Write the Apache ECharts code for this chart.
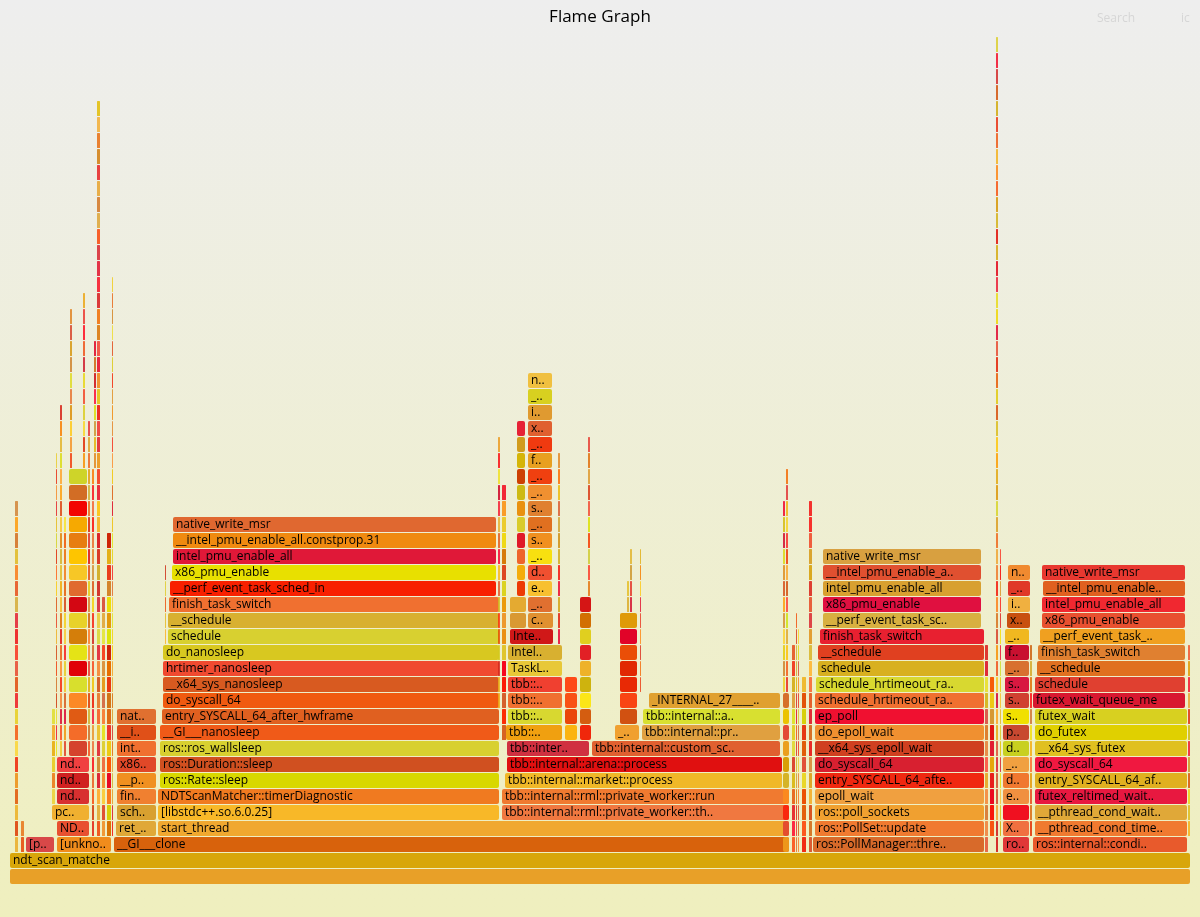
<!DOCTYPE html>
<html lang="en">
<head>
    <meta charset="UTF-8">
    <script src="https://cdn.jsdelivr.net/npm/echarts@6/dist/echarts.min.js"></script>
    <title>Flame Graph</title>
    <style>
        html, body {margin: 0; padding: 0;}
        body {background: linear-gradient(#eeeeee, #efefbe);}
    </style>
</head>
<body>

<div id="fg" style="width:1200px;height:917px;"></div>

<script>
    // frames with names: [depth, start, end, label]  (sample units, root = 0..1181)
    var frames = [
        [0, 0, 1181, ''],
        [1, 0, 1181, 'ndt_scan_matche'],
        [2, 16, 45, '[p..'], [2, 47, 102, '[unkno..'], [2, 104, 780, '__GI___clone'], [2, 803, 975, 'ros::PollManager::thre..'], [2, 993, 1020, 'ro..'], [2, 1023, 1178, 'ros::internal::condi..'],
        [3, 47, 80, 'ND..'], [3, 106, 147, 'ret_..'], [3, 148, 780, 'start_thread'], [3, 805, 975, 'ros::PollSet::update'], [3, 993, 1020, 'Xm..'], [3, 1025, 1178, '__pthread_cond_time..'],
        [4, 42, 80, 'pc..'], [4, 107, 147, 'sch..'], [4, 148, 490, '[libstdc++.so.6.0.25]'], [4, 492, 780, 'tbb::internal::rml::private_worker::th..'], [4, 805, 975, 'ros::poll_sockets'], [4, 993, 1020, ''], [4, 1025, 1178, '__pthread_cond_wait..'],
        [5, 47, 80, 'nd..'], [5, 107, 147, 'fin..'], [5, 148, 490, 'NDTScanMatcher::timerDiagnostic'], [5, 492, 780, 'tbb::internal::rml::private_worker::run'], [5, 805, 975, 'epoll_wait'], [5, 993, 1020, 'e..'], [5, 1025, 1178, 'futex_reltimed_wait..'],
        [6, 47, 80, 'nd..'], [6, 107, 147, '__p..'], [6, 150, 490, 'ros::Rate::sleep'], [6, 495, 773, 'tbb::internal::market::process'], [6, 805, 975, 'entry_SYSCALL_64_afte..'], [6, 993, 1020, 'd..'], [6, 1025, 1178, 'entry_SYSCALL_64_af..'],
        [7, 47, 80, 'nd..'], [7, 107, 147, 'x86..'], [7, 150, 490, 'ros::Duration::sleep'], [7, 497, 773, 'tbb::internal::arena::process'], [7, 805, 975, 'do_syscall_64'], [7, 993, 1020, '_..'], [7, 1025, 1178, 'do_syscall_64'],
        [8, 107, 147, 'int..'], [8, 150, 490, 'ros::ros_wallsleep'], [8, 497, 580, 'tbb::inter..'], [8, 582, 771, 'tbb::internal::custom_sc..'], [8, 805, 975, '__x64_sys_epoll_wait'], [8, 993, 1020, 'd..'], [8, 1025, 1178, '__x64_sys_futex'],
        [9, 107, 147, '__i..'], [9, 150, 490, '__GI___nanosleep'], [9, 496, 553, 'tbb::..'], [9, 605, 630, '_..'], [9, 632, 771, 'tbb::internal::pr..'], [9, 805, 975, 'do_epoll_wait'], [9, 993, 1020, 'p..'], [9, 1025, 1178, 'do_futex'],
        [10, 107, 147, 'nat..'], [10, 152, 490, 'entry_SYSCALL_64_after_hwframe'], [10, 498, 553, 'tbb::..'], [10, 633, 771, 'tbb::internal::a..'], [10, 805, 975, 'ep_poll'], [10, 993, 1020, 's..'], [10, 1025, 1178, 'futex_wait'],
        [11, 153, 490, 'do_syscall_64'], [11, 498, 553, 'tbb::..'], [11, 639, 771, '_INTERNAL_27____..'], [11, 805, 975, 'schedule_hrtimeout_ra..'], [11, 995, 1020, 's..'], [11, 1023, 1176, 'futex_wait_queue_me'],
        [12, 153, 490, '__x64_sys_nanosleep'], [12, 498, 553, 'tbb::..'], [12, 806, 975, 'schedule_hrtimeout_ra..'], [12, 995, 1020, 's..'], [12, 1025, 1176, 'schedule'],
        [13, 153, 490, 'hrtimer_nanosleep'], [13, 498, 553, 'TaskL..'], [13, 808, 975, 'schedule'], [13, 995, 1020, '_..'], [13, 1027, 1176, '__schedule'],
        [14, 153, 490, 'do_nanosleep'], [14, 498, 553, 'Intel..'], [14, 808, 975, '__schedule'], [14, 995, 1020, 'f..'], [14, 1028, 1176, 'finish_task_switch'],
        [15, 158, 490, 'schedule'], [15, 500, 544, 'Inte..'], [15, 810, 975, 'finish_task_switch'], [15, 995, 1020, '_..'], [15, 1030, 1176, '__perf_event_task_..'],
        [16, 158, 490, '__schedule'], [16, 518, 544, 'c..'], [16, 813, 972, '__perf_event_task_sc..'], [16, 997, 1021, 'x..'], [16, 1032, 1176, 'x86_pmu_enable'],
        [17, 159, 490, 'finish_task_switch'], [17, 518, 543, '_..'], [17, 813, 972, 'x86_pmu_enable'], [17, 998, 1021, 'i..'], [17, 1032, 1176, 'intel_pmu_enable_all'],
        [18, 160, 487, '__perf_event_task_sched_in'], [18, 518, 543, 'e..'], [18, 813, 972, 'intel_pmu_enable_all'], [18, 998, 1021, '_..'], [18, 1033, 1176, '__intel_pmu_enable..'],
        [19, 162, 487, 'x86_pmu_enable'], [19, 518, 543, 'd..'], [19, 813, 972, '__intel_pmu_enable_a..'], [19, 998, 1021, 'n..'], [19, 1032, 1176, 'native_write_msr'],
        [20, 163, 487, 'intel_pmu_enable_all'], [20, 518, 543, '_..'], [20, 813, 972, 'native_write_msr'],
        [21, 163, 487, '__intel_pmu_enable_all.constprop.31'], [21, 518, 543, 's..'],
        [22, 163, 487, 'native_write_msr'], [22, 518, 543, '_..'],
        [23, 518, 543, 's..'], [24, 518, 543, '_..'], [25, 518, 543, '_..'], [26, 518, 543, 'f..'],
        [27, 518, 543, '_..'], [28, 518, 543, 'x..'], [29, 518, 543, 'i..'], [30, 518, 543, '_..'], [31, 518, 543, 'n..']
    ];

    // fill colour of each named frame, same order as frames
    var tints = [
        '#e8a028',
        '#d8a60a',
        '#d84848', '#f08c1c', '#d8620c', '#d86a2a', '#e03838', '#e85a2c',
        '#e85030', '#e0a838', '#f0a830', '#f07a30', '#f07040', '#f07a30',
        '#f0b030', '#d8a030', '#f8b828', '#f07840', '#f0a030', '#f01020', '#e0a838',
        '#d83030', '#f08030', '#f07a20', '#f07a30', '#f0a040', '#f09040', '#e81840',
        '#d02020', '#f09020', '#d8d800', '#f0b828', '#f02810', '#f07830', '#e0b020',
        '#f04040', '#e04828', '#d05020', '#e01010', '#d82030', '#f0a040', '#f01840',
        '#f07030', '#d8d030', '#d03040', '#e06030', '#d04020', '#c8d020', '#e0c020',
        '#e05018', '#f05a18', '#f0a010', '#f0a030', '#e0a040', '#f09030', '#c84830', '#e0d000',
        '#e07030', '#e06020', '#d8d830', '#d8e030', '#f01030', '#f0e000', '#d8d020',
        '#f05a10', '#f07030', '#e0a030', '#f07030', '#d04030', '#d81830',
        '#d85a20', '#f04030', '#d8d830', '#d81840', '#e04030',
        '#f04a30', '#e8c838', '#d8b020', '#d87030', '#e07020',
        '#d8c820', '#d8b030', '#e04020', '#c81030', '#e08030',
        '#d8d030', '#d01818', '#e82030', '#f0b820', '#f0a020',
        '#d8b030', '#e09030', '#d8b040', '#c85010', '#e85030',
        '#f07030', '#e07030', '#e01040', '#f0b040', '#f02830',
        '#f82000', '#f8c030', '#d8a030', '#e03828', '#e06020',
        '#e8e000', '#f05030', '#e05030', '#f08a30', '#e83830',
        '#e01838', '#f8e010', '#d8a040',
        '#f08a10', '#f09020',
        '#e06830', '#e07020',
        '#e08030', '#f09030', '#f04010', '#e8a020',
        '#f03a10', '#e06030', '#e09a30', '#d8d020', '#f0c040'
    ];

    // narrow unnamed stacks: [start, width, fromDepth, toDepth]
    var towers = [
        [5, 4, 2, 23], [11, 4, 2, 3],
        [42, 4, 5, 10], [46, 2, 8, 26], [50, 3, 8, 29], [54, 3, 8, 22],
        [59, 19, 8, 25], [60, 3, 26, 35], [73, 3, 26, 36], [78, 3, 8, 28],
        [82, 3, 3, 25], [84, 3, 26, 33], [87, 4, 3, 48], [92, 4, 3, 17],
        [97, 5, 3, 21], [102, 2, 3, 37], [155, 2, 15, 19],
        [488, 3, 11, 27], [492, 5, 9, 24], [500, 17, 16, 17], [507, 9, 18, 28],
        [548, 3, 15, 26], [555, 13, 9, 12], [570, 12, 9, 17], [578, 3, 18, 27],
        [610, 18, 10, 16], [617, 3, 17, 18], [620, 3, 17, 20], [630, 2, 12, 20],
        [773, 7, 2, 11], [773, 3, 12, 23], [776, 3, 12, 25], [782, 4, 2, 14],
        [786, 2, 2, 16], [788, 2, 2, 15], [792, 5, 2, 12], [799, 4, 2, 23],
        [975, 4, 2, 14], [980, 5, 3, 12], [986, 3, 2, 52], [990, 2, 3, 20],
        [1020, 3, 3, 14], [1178, 3, 3, 14]
    ];

    var maxDepth = 54;

    // flamegraph "hot" palette, picked by a fixed integer hash of the seed
    function mix(a) {
        a = (a + 0x6D2B79F5) | 0;
        var t = Math.imul(a ^ (a >>> 15), 1 | a);
        t = (t + Math.imul(t ^ (t >>> 7), 61 | t)) ^ t;
        return ((t ^ (t >>> 14)) >>> 0) / 4294967296;
    }
    function warm(seed) {
        var v1 = mix(seed), v2 = mix(seed + 1013), v3 = mix(seed + 7919);
        var r = Math.round(205 + 50 * v3), g = Math.round(230 * v1), b = Math.round(55 * v2);
        return 'rgb(' + r + ',' + g + ',' + b + ')';
    }

    var boxes = [];
    frames.forEach(function (f, i) {
        boxes.push({value: [f[1], f[2], f[0]], name: f[3], itemStyle: {color: tints[i]}});
    });
    towers.forEach(function (t, i) {
        for (var d = t[2]; d <= t[3]; d++) {
            boxes.push({value: [t[0], t[0] + t[1], d], name: '', itemStyle: {color: warm(i * 97 + d * 31)}});
        }
    });

    var myChart = echarts.init(document.getElementById('fg'));
    myChart.setOption({
        animation: false,
        title: [
            {text: 'Flame Graph', left: 'center', top: 4,
                textStyle: {fontFamily: 'Open Sans', fontSize: 17, fontWeight: 'normal', color: '#000'}},
            {text: 'Search', left: 1092, top: 8,
                textStyle: {fontFamily: 'Open Sans', fontSize: 12, fontWeight: 'normal', color: '#d6d6d6'}},
            {text: 'ic', left: 1176, top: 8,
                textStyle: {fontFamily: 'Open Sans', fontSize: 12, fontWeight: 'normal', color: '#d6d6d6'}}
        ],
        grid: {left: 10, right: 9, top: 21, bottom: 32},
        xAxis: {type: 'value', min: 0, max: 1181, show: false},
        yAxis: {type: 'value', min: 0, max: maxDepth, show: false},
        series: [{
            type: 'custom',
            encode: {x: [0, 1], y: 2},
            data: boxes,
            renderItem: function (params, api) {
                var p0 = api.coord([api.value(0), api.value(2) + 1]);
                var p1 = api.coord([api.value(1), api.value(2)]);
                var w = p1[0] - p0[0], h = p1[1] - p0[1];
                var label = boxes[params.dataIndex].name;
                var children = [{
                    type: 'rect',
                    shape: {x: p0[0], y: p0[1], width: Math.max(w - 1, 0.8), height: h - 1, r: w > 6 ? 2 : 0.5},
                    style: {fill: api.visual('color'), opacity: w > 4 ? 1 : 0.85}
                }];
                if (label && w > 14) {
                    children.push({
                        type: 'text',
                        style: {
                            x: p0[0] + 3, y: p0[1] + (h - 1) / 2,
                            text: label, fill: '#000',
                            font: '12px "Open Sans"',
                            verticalAlign: 'middle',
                            width: w - 5, overflow: 'truncate', ellipsis: '..'
                        }
                    });
                }
                return {type: 'group', children: children};
            }
        }]
    });
</script>

</body>
</html>
